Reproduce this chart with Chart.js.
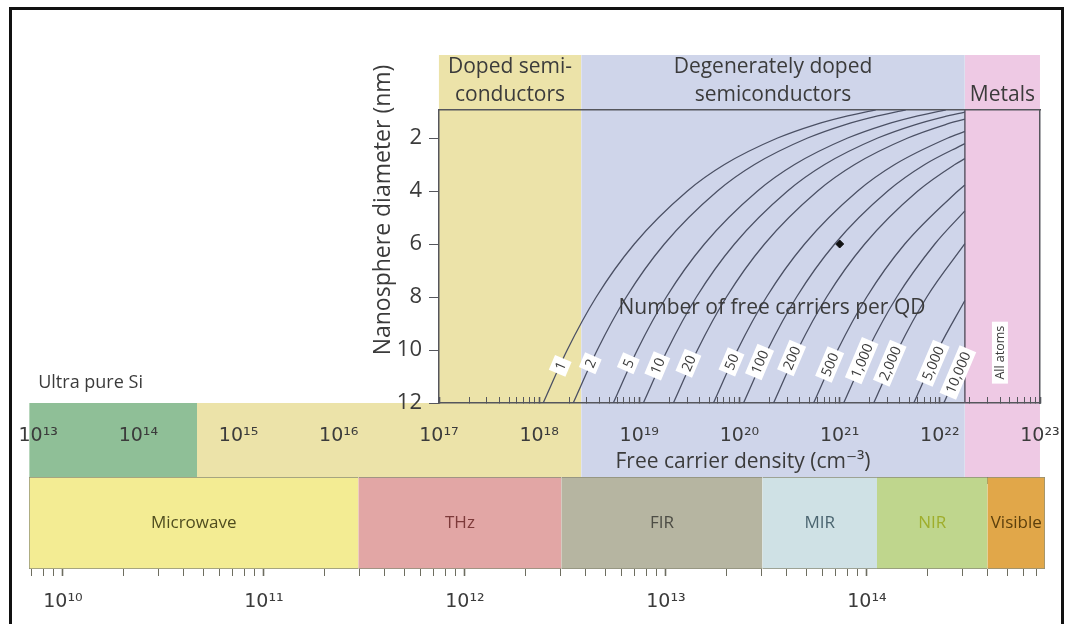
<!DOCTYPE html>
<html lang="en">
<head>
<meta charset="UTF-8">
<title>Free carriers per quantum dot</title>
<script src="https://cdn.jsdelivr.net/npm/chart.js"></script>
<style>
  html, body { margin: 0; padding: 0; background: #fff; }
  #fig { position: relative; width: 1073px; height: 624px; overflow: hidden; background: #fff; }
  #fig canvas { position: absolute; left: 0; top: 0; }
  #frame { position: absolute; left: 9px; top: 7px; width: 1055px; height: 640px; border: 3px solid #111; box-sizing: border-box; }
</style>
</head>
<body>
<div id="fig">
  <canvas id="bands" width="1073" height="624"></canvas>
  <canvas id="spectrum" width="1073" height="624"></canvas>
  <canvas id="main" width="1073" height="624"></canvas>
  <div id="frame"></div>
</div>
<script>
// ---------- values ----------
// carrier density regions, log10(cm^-3)
const regionNames  = ['Ultra pure Si', 'Doped semiconductors', 'Degenerately doped semiconductors', 'Metals'];
const regionStart  = [12.91, 14.585, 18.42, 22.25];
const regionEnd    = [14.585, 18.42, 22.25, 23];
const regionColors = ['#8fbf97', '#ece3a9', '#cfd5ea', '#eec9e4'];
const regionHeader = [[], ['Doped semi-', 'conductors'], ['Degenerately doped', 'semiconductors'], ['', 'Metals']];

// spectral regions, log10(Hz)
const spectrumNames  = ['Microwave', 'THz', 'FIR', 'MIR', 'NIR', 'Visible'];
const spectrumStart  = [9.831, 11.47, 12.48, 13.48, 14.05, 14.6];
const spectrumEnd    = [11.47, 12.48, 13.48, 14.05, 14.6, 14.886];
const spectrumColors = ['#f3ec93', '#e2a6a5', '#b6b5a1', '#cfe1e5', '#bfd68d', '#e1a749'];
const spectrumInk    = ['#4f4d1f', '#7d3a3a', '#4d4d45', '#4b6570', '#9fae2c', '#5b3f0c'];

// lines of constant number of free carriers per QD
const carrierLabels = ['1', '2', '5', '10', '20', '50', '100', '200', '500', '1,000', '2,000', '5,000', '10,000'];
const curveExp = [
  [18.04, 18.28, 18.57, 18.95, 19.48, 19.85, 20.38, 20.75, 21.04, 21.36],
  [18.34, 18.58, 18.87, 19.25, 19.78, 20.15, 20.68, 21.05, 21.34, 21.66],
  [18.74, 18.98, 19.27, 19.65, 20.18, 20.55, 21.08, 21.45, 21.74, 22.06],
  [19.04, 19.28, 19.57, 19.95, 20.48, 20.85, 21.38, 21.75, 22.04, 22.25],
  [19.34, 19.58, 19.87, 20.25, 20.78, 21.15, 21.68, 22.05, 22.25],
  [19.74, 19.98, 20.27, 20.65, 21.18, 21.55, 22.08, 22.25],
  [20.04, 20.28, 20.57, 20.95, 21.48, 21.85, 22.25],
  [20.34, 20.58, 20.87, 21.25, 21.78, 22.15, 22.25],
  [20.74, 20.98, 21.27, 21.65, 22.18, 22.25],
  [21.04, 21.28, 21.57, 21.95, 22.25],
  [21.34, 21.58, 21.87, 22.25],
  [21.74, 21.98, 22.25],
  [22.04, 22.25]
];
const curveDiam = [
  [12, 10, 8, 6, 4, 3, 2, 1.5, 1.2, 0.94],
  [12, 10, 8, 6, 4, 3, 2, 1.5, 1.2, 0.94],
  [12, 10, 8, 6, 4, 3, 2, 1.5, 1.2, 0.94],
  [12, 10, 8, 6, 4, 3, 2, 1.5, 1.2, 1.02],
  [12, 10, 8, 6, 4, 3, 2, 1.5, 1.29],
  [12, 10, 8, 6, 4, 3, 2, 1.75],
  [12, 10, 8, 6, 4, 3, 2.21],
  [12, 10, 8, 6, 4, 3, 2.78],
  [12, 10, 8, 6, 4, 3.77],
  [12, 10, 8, 6, 4.75],
  [12, 10, 8, 5.99],
  [12, 10, 8.13],
  [12, 10.24]
];
const labelExp  = [18.21, 18.51, 18.89, 19.18, 19.49, 19.92, 20.2, 20.52, 20.9, 21.22, 21.5, 21.93, 22.18];
const labelDiam = [10.6, 10.5, 10.5, 10.6, 10.5, 10.45, 10.45, 10.3, 10.55, 10.4, 10.5, 10.5, 10.85];

const markerExp = [21];
const markerDiam = [6];
const diameterTicks = [2, 4, 6, 8, 10, 12];

// ---------- axes ----------
const densityMin = 12.908, densityMax = 23.05;   // full strip
const plotMin = 17, plotMax = 23;                // main plot window
const freqMin = 9.831, freqMax = 14.886;
const diamTop = 0.943, diamBottom = 12;
const headerTop = -1.132, stripBottom = 14.79;   // same nm scale, extended over the header and strip

const FONT = '"Open Sans", "DejaVu Sans", sans-serif';
const NUM_FONT = '"DejaVu Sans", sans-serif';
const INK = '#3b3b3b';
const AXIS = '#55565c';

Chart.defaults.font.family = FONT;
Chart.defaults.animation = false;
Chart.defaults.responsive = false;
Chart.defaults.plugins.legend.display = false;
Chart.defaults.plugins.tooltip.enabled = false;

const SUP = { '0': '⁰', '1': '¹', '2': '²', '3': '³', '4': '⁴', '5': '⁵', '6': '⁶', '7': '⁷', '8': '⁸', '9': '⁹', '-': '⁻' };
function pow10(v) {
  return '10' + String(Math.round(Math.log10(v))).split('').map(c => SUP[c]).join('');
}
function logTicks(scale, from, to) {
  const out = [];
  for (let e = from; e <= to; e++) {
    for (let m = 1; m <= 9; m++) {
      const v = m * Math.pow(10, e);
      if (v >= scale.min * 0.999 && v <= scale.max * 1.001) out.push({ value: v, major: m === 1 });
    }
  }
  scale.ticks = out;
}
// fixed axis size, and no extra side padding from the labels
function fixHeight(h) {
  return s => { s.height = h; s.paddingLeft = 0; s.paddingRight = 0; };
}
const majorWidth = c => (c.tick && c.tick.major ? 1.6 : 1);

// ---------- background regions ----------
function regionOutline(s, e) {
  if (s >= plotMin) return [{ x: 10 ** s, y: headerTop }, { x: 10 ** Math.min(e, plotMax), y: headerTop }];
  const pts = [{ x: 10 ** s, y: diamBottom }];
  if (e <= plotMin) pts.push({ x: 10 ** e, y: diamBottom });
  else pts.push({ x: 10 ** plotMin, y: diamBottom }, { x: 10 ** plotMin, y: headerTop }, { x: 10 ** e, y: headerTop });
  return pts;
}

const regionText = {
  id: 'regionText',
  afterDatasetsDraw(chart) {
    const { ctx, scales: { x } } = chart;
    ctx.save();
    ctx.fillStyle = INK;
    ctx.textAlign = 'center';
    ctx.textBaseline = 'middle';
    ctx.font = '21px ' + FONT;
    regionHeader.forEach((lines, i) => {
      const a = Math.max(regionStart[i], plotMin), b = Math.min(regionEnd[i], plotMax);
      const cx = (x.getPixelForValue(10 ** a) + x.getPixelForValue(10 ** b)) / 2;
      lines.forEach((t, k) => ctx.fillText(t, cx, 67 + k * 28));
    });
    ctx.textAlign = 'left';
    ctx.font = '18px ' + FONT;
    ctx.fillText(regionNames[0], x.getPixelForValue(10 ** regionStart[0]) + 9, 383);
    ctx.restore();
  }
};

new Chart(document.getElementById('bands'), {
  type: 'line',
  data: {
    datasets: regionNames.map((n, i) => ({
      label: n,
      data: regionOutline(regionStart[i], regionEnd[i]),
      backgroundColor: regionColors[i],
      borderWidth: 0,
      pointRadius: 0,
      tension: 0,
      fill: { value: stripBottom }
    }))
  },
  options: {
    layout: { padding: { left: 29, right: 28, top: 55, bottom: 147 } },
    scales: {
      x: { type: 'logarithmic', display: false, min: 10 ** densityMin, max: 10 ** densityMax },
      y: { type: 'linear', display: false, reverse: true, min: headerTop, max: stripBottom }
    }
  },
  plugins: [regionText]
});

// ---------- spectrum strip with density / frequency axes ----------
const spectrumLabels = {
  id: 'spectrumLabels',
  afterDatasetsDraw(chart) {
    const { ctx, chartArea, scales: { f } } = chart;
    ctx.save();
    ctx.textAlign = 'center';
    ctx.textBaseline = 'middle';
    ctx.font = '17px ' + FONT;
    const cy = (chartArea.top + chartArea.bottom) / 2;
    spectrumNames.forEach((n, i) => {
      const cx = (f.getPixelForValue(10 ** spectrumStart[i]) + f.getPixelForValue(10 ** spectrumEnd[i])) / 2;
      ctx.fillStyle = spectrumInk[i];
      ctx.fillText(n, cx, cy);
    });
    ctx.fillStyle = INK;
    ctx.font = '21px ' + FONT;
    ctx.fillText('Free carrier density (cm⁻³)', 743, 462);
    ctx.restore();
  }
};

new Chart(document.getElementById('spectrum'), {
  type: 'bar',
  data: {
    labels: ['spectrum'],
    datasets: [{
      data: spectrumNames.map((n, i) => ({ x: [10 ** spectrumStart[i], 10 ** spectrumEnd[i]], y: 'spectrum' })),
      backgroundColor: spectrumColors,
      borderColor: '#8c8e7a',
      borderWidth: c => ({ top: 1, bottom: 1, left: c.dataIndex === 0 ? 1 : 0, right: c.dataIndex === spectrumNames.length - 1 ? 1 : 0 }),
      borderSkipped: false,
      barPercentage: 1,
      categoryPercentage: 1,
      xAxisID: 'f',
      yAxisID: 'y'
    }]
  },
  options: {
    indexAxis: 'y',
    layout: { padding: { left: 29, right: 28, top: 427, bottom: 0 } },
    scales: {
      x: {
        type: 'logarithmic', position: 'top', min: 10 ** densityMin, max: 10 ** densityMax,
        afterBuildTicks: s => logTicks(s, 12, 23),
        afterFit: fixHeight(50),
        grid: { drawOnChartArea: false, tickLength: -7, tickColor: '#6d6d60', tickWidth: majorWidth },
        border: { display: false },
        ticks: {
          autoSkip: false, maxRotation: 0, padding: 37, color: INK,
          font: { family: NUM_FONT, size: 19 },
          callback: (v, i, t) => (t[i].major ? pow10(v) : '')
        }
      },
      f: {
        axis: 'x', type: 'logarithmic', position: 'bottom', min: 10 ** freqMin, max: 10 ** freqMax,
        afterBuildTicks: s => logTicks(s, 9, 14),
        afterFit: fixHeight(55),
        grid: { drawOnChartArea: false, tickLength: 7, tickColor: '#6d6d60', tickWidth: majorWidth },
        border: { display: false },
        ticks: {
          autoSkip: false, maxRotation: 0, padding: 15, color: INK,
          font: { family: NUM_FONT, size: 19 },
          callback: (v, i, t) => (t[i].major ? pow10(v) : '')
        }
      },
      y: { type: 'category', display: false }
    }
  },
  plugins: [spectrumLabels]
});

// ---------- main plot: nanosphere diameter vs density ----------
const mainText = {
  id: 'mainText',
  afterDatasetsDraw(chart) {
    const { ctx, scales: { x, y } } = chart;
    ctx.save();
    ctx.textAlign = 'center';
    ctx.textBaseline = 'middle';

    ctx.fillStyle = INK;
    ctx.font = '21px ' + FONT;
    ctx.fillText('Number of free carriers per QD', 772, 308);

    ctx.font = '14px ' + FONT;
    carrierLabels.forEach((t, i) => {
      const px = x.getPixelForValue(10 ** labelExp[i]);
      const py = y.getPixelForValue(labelDiam[i]);
      const w = ctx.measureText(t).width + 8;
      ctx.save();
      ctx.translate(px, py);
      ctx.rotate(-1.17);
      ctx.fillStyle = '#fff';
      ctx.fillRect(-w / 2, -9, w, 18);
      ctx.fillStyle = INK;
      ctx.fillText(t, 0, 1);
      ctx.restore();
    });

    // label inside the metals column
    ctx.save();
    ctx.translate(x.getPixelForValue(10 ** 22.6), y.getPixelForValue(10.1));
    ctx.rotate(-Math.PI / 2);
    ctx.font = '12.5px ' + FONT;
    const w = ctx.measureText('All atoms').width + 8;
    ctx.fillStyle = '#fff';
    ctx.fillRect(-w / 2, -8, w, 16);
    ctx.fillStyle = INK;
    ctx.fillText('All atoms', 0, 1);
    ctx.restore();

    // y axis title
    ctx.save();
    ctx.translate(383, 210);
    ctx.rotate(-Math.PI / 2);
    ctx.fillStyle = INK;
    ctx.font = '23px ' + FONT;
    ctx.fillText('Nanosphere diameter (nm)', 0, 0);
    ctx.restore();
    ctx.restore();
  }
};

const curveSets = carrierLabels.map((n, i) => ({
  label: n + ' carriers',
  data: curveExp[i].map((e, k) => ({ x: 10 ** e, y: curveDiam[i][k] })),
  borderColor: '#4b5064',
  borderWidth: 1.3,
  pointRadius: 0,
  cubicInterpolationMode: 'monotone',
  xAxisID: 'x',
  yAxisID: 'y'
}));

new Chart(document.getElementById('main'), {
  type: 'line',
  data: {
    datasets: [
      ...curveSets,
      {
        label: 'metals boundary',
        data: [{ x: 10 ** regionStart[3], y: diamTop }, { x: 10 ** regionStart[3], y: diamBottom }],
        borderColor: '#5e5868', borderWidth: 1.5, pointRadius: 0, tension: 0,
        xAxisID: 'x', yAxisID: 'y'
      },
      {
        label: 'marker',
        data: markerExp.map((e, i) => ({ x: 10 ** e, y: markerDiam[i] })),
        showLine: false, pointStyle: 'rectRot', pointRadius: 4,
        pointBackgroundColor: '#111', pointBorderColor: '#111',
        xAxisID: 'x', yAxisID: 'y'
      }
    ]
  },
  options: {
    layout: { padding: { left: 379, right: 33, top: 110, bottom: 181 } },
    scales: {
      x: {
        type: 'logarithmic', position: 'bottom', min: 10 ** plotMin, max: 10 ** plotMax,
        afterBuildTicks: s => logTicks(s, 17, 23),
        afterFit: fixHeight(40),
        grid: { drawOnChartArea: false, tickLength: -6, tickColor: AXIS, tickWidth: majorWidth },
        border: { color: AXIS, width: 1.5 },
        ticks: { display: false, autoSkip: false }
      },
      y: {
        type: 'linear', position: 'left', reverse: true, min: diamTop, max: diamBottom,
        afterBuildTicks: s => { s.ticks = diameterTicks.map(v => ({ value: v })); },
        afterFit: s => { s.width = 60; },
        grid: { drawOnChartArea: false, tickLength: 10, tickColor: AXIS },
        border: { color: AXIS, width: 1.5 },
        ticks: { padding: 7, color: INK, font: { family: FONT, size: 22 } }
      },
      xt: {
        type: 'linear', position: 'top', min: 0, max: 1,
        afterFit: s => { s.height = 0; },
        grid: { display: false }, ticks: { display: false },
        border: { color: AXIS, width: 1.5 }
      },
      yr: {
        type: 'linear', position: 'right', min: 0, max: 1,
        afterFit: s => { s.width = 0; },
        grid: { display: false }, ticks: { display: false },
        border: { color: AXIS, width: 1.5 }
      }
    }
  },
  plugins: [mainText]
});
</script>
</body>
</html>
